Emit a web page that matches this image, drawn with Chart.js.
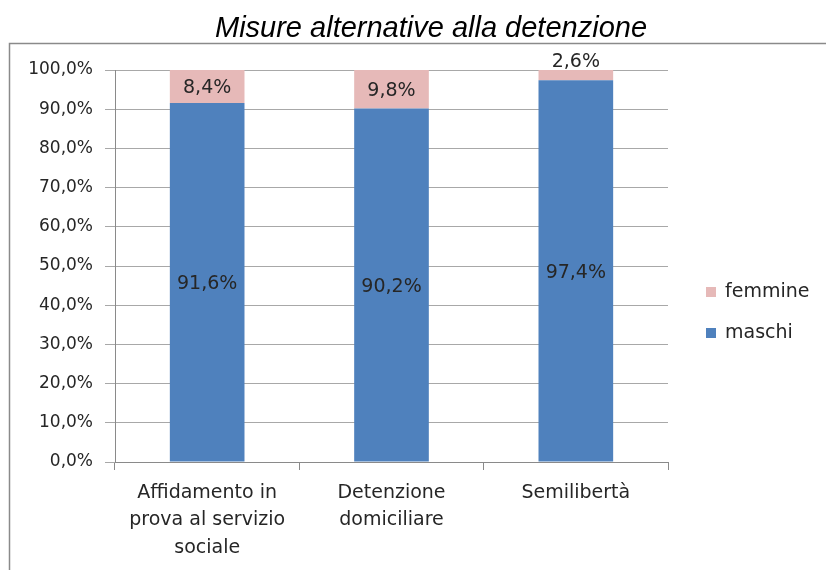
<!DOCTYPE html>
<html><head><meta charset="utf-8">
<script src="https://cdn.jsdelivr.net/npm/chart.js@4"></script>
<style>html,body{margin:0;padding:0;background:#fff}#w{position:absolute;left:0;top:0;width:826px;height:570px}</style>
</head><body><div id="w"><canvas id="c" width="826" height="570"></canvas></div>
<script>
const chartTitle = 'Misure alternative alla detenzione';
const categories = [['Affidamento in','prova al servizio','sociale'],['Detenzione','domiciliare'],['Semilibertà']];
const maschi = [91.6, 90.2, 97.4];
const femmine = [8.4, 9.8, 2.6];
const seriesNames = ['maschi','femmine'];
const yTicks = [0,10,20,30,40,50,60,70,80,90,100];

const FONT = 'DejaVu Sans';
const fmt = v => v.toFixed(1).replace('.', ',') + '%';

const framePlugin = {
  id:'frame',
  beforeDraw(ch){
    const c = ch.ctx; c.save();
    c.fillStyle='#fff'; c.fillRect(0,0,ch.width,ch.height);
    c.strokeStyle='#8a8a8a'; c.lineWidth=1.5;
    c.beginPath(); c.moveTo(9.5,575); c.lineTo(9.5,43.5); c.lineTo(830,43.5); c.stroke();
    c.font='italic 29px "Liberation Sans", Arial, sans-serif';
    c.fillStyle='#000'; c.textAlign='center'; c.textBaseline='alphabetic';
    c.fillText(chartTitle, 431, 37);
    c.restore();
  },
  afterDraw(ch){
    const c = ch.ctx; c.save();
    c.font = '19px "'+FONT+'"'; c.textAlign='center'; c.textBaseline='middle';
    c.fillStyle='#262626';
    ch.data.datasets.forEach((ds,di)=>{
      const meta = ch.getDatasetMeta(di);
      meta.data.forEach((bar,i)=>{
        const top = Math.min(bar.y, bar.base), bot = Math.max(bar.y, bar.base);
        let y = (top+bot)/2 + 2;
        if (bot-top < 18) y = top - 8;
        c.fillText(fmt(ds.data[i]), bar.x, y);
      });
    });
    // legend (femmine above maschi)
    const items = [1,0];
    items.forEach((di,k)=>{
      const ds = ch.data.datasets[di];
      const y = 292 + k*41;
      c.fillStyle = ds.backgroundColor;
      c.fillRect(706, y-5, 10, 10);
      c.fillStyle='#262626'; c.textAlign='left';
      c.fillText(ds.label, 725, y);
    });
    c.restore();
  }
};

new Chart(document.getElementById('c'), {
  type:'bar',
  data:{
    labels: categories,
    datasets:[
      {label: seriesNames[0], data: maschi, backgroundColor:'#4F81BD', barPercentage:0.405, categoryPercentage:1},
      {label: seriesNames[1], data: femmine, backgroundColor:'#E6B9B8', barPercentage:0.405, categoryPercentage:1}
    ]
  },
  options:{
    responsive:false, animation:false,
    layout:{padding:{left:0,right:158,top:70,bottom:0}},
    plugins:{legend:{display:false}, title:{display:false}, tooltip:{enabled:false}},
    scales:{
      x:{stacked:true,
        afterFit(s){ s.height = 108; },
        grid:{drawOnChartArea:false, offset:true, tickLength:8, color:'#8a8a8a'},
        border:{color:'#8a8a8a'},
        ticks:{font:{family:FONT,size:19,lineHeight:1.45}, color:'#262626', padding:9, maxRotation:0, autoSkip:false}
      },
      y:{stacked:true, min:0, max:100,
        afterFit(s){ s.width = 115; },
        afterBuildTicks(s){ s.ticks = yTicks.map(v=>({value:v})); },
        grid:{color:'#a8a8a8', tickLength:10, lineWidth:1},
        border:{color:'#8a8a8a'},
        ticks:{font:{family:FONT,size:17}, color:'#262626', padding:12, callback:v=>fmt(v)}
      }
    }
  },
  plugins:[framePlugin]
});
</script></body></html>
